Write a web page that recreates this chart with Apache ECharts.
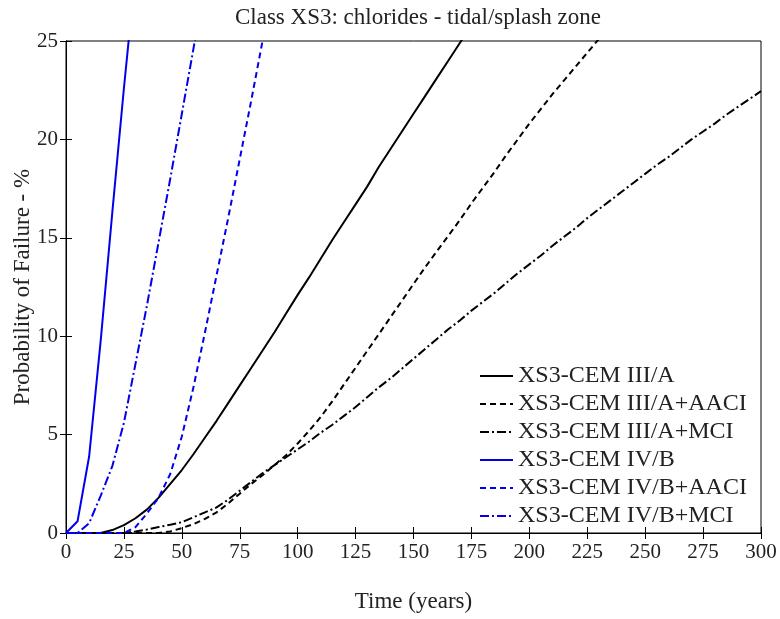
<!DOCTYPE html>
<html>
<head>
<meta charset="utf-8">
<script src="https://cdn.jsdelivr.net/npm/echarts@6/dist/echarts.min.js"></script>
<style>
  html, body { margin: 0; padding: 0; background: #fff; }
  #chart { width: 780px; height: 619px; }
</style>
</head>
<body>
<div id="chart"></div>
<script>
// series names
var names = ['XS3-CEM III/A', 'XS3-CEM III/A+AACI', 'XS3-CEM III/A+MCI',
             'XS3-CEM IV/B', 'XS3-CEM IV/B+AACI', 'XS3-CEM IV/B+MCI'];

// XS3-CEM III/A (black solid)
var yearsA = [0, 15, 20, 25, 30, 35, 40, 45, 50, 55, 60, 65, 70, 75, 80, 85, 90, 95, 100,
              105, 110, 115, 120, 125, 130, 135, 140, 145, 150, 155, 160, 165, 170, 175];
var valsA = [0, 0, 0.15, 0.4, 0.75, 1.2, 1.8, 2.5, 3.2, 4.0, 4.85, 5.7, 6.6, 7.5, 8.4, 9.3, 10.2, 11.15, 12.1,
             13.0, 13.95, 14.9, 15.8, 16.7, 17.6, 18.6, 19.5, 20.4, 21.3, 22.2, 23.1, 24.0, 24.9, 25.8];

// XS3-CEM III/A+AACI (black dashed)
var yearsB = [0, 40, 45, 50, 55, 60, 65, 70, 75, 80, 85, 90, 95, 100, 105, 110, 115, 120, 125, 130,
              135, 140, 145, 150, 155, 160, 165, 170, 175, 180, 185, 190, 195, 200, 205, 210, 215, 220, 225, 230, 235];
var valsB = [0, 0, 0.08, 0.25, 0.45, 0.72, 1.05, 1.5, 2.0, 2.5, 2.95, 3.45, 3.95, 4.55, 5.2, 5.9, 6.7, 7.55, 8.4, 9.25,
             10.1, 10.95, 11.8, 12.65, 13.5, 14.3, 15.1, 15.9, 16.75, 17.55, 18.35, 19.2, 20.0, 20.8, 21.55, 22.3, 23.0, 23.7, 24.4, 25.1, 25.8];

// XS3-CEM III/A+MCI (black dash-dot)
var yearsC = [0, 25, 30, 35, 40, 45, 50, 55, 60, 65, 70, 75, 80, 85, 90, 95, 100, 105, 110, 115, 120,
              125, 130, 135, 140, 145, 150, 155, 160, 165, 170, 175, 180, 185, 190, 195, 200, 205, 210,
              215, 220, 225, 230, 235, 240, 245, 250, 255, 260, 265, 270, 275, 280, 285, 290, 295, 300];
var valsC = [0, 0, 0.08, 0.18, 0.3, 0.42, 0.55, 0.8, 1.05, 1.3, 1.7, 2.15, 2.6, 3.05, 3.45, 3.85, 4.25, 4.65, 5.1, 5.5, 5.95,
             6.4, 6.9, 7.4, 7.85, 8.35, 8.85, 9.35, 9.85, 10.35, 10.8, 11.3, 11.75, 12.2, 12.7, 13.2, 13.65, 14.1, 14.6,
             15.05, 15.5, 16.0, 16.45, 16.9, 17.35, 17.8, 18.25, 18.7, 19.1, 19.55, 20.0, 20.4, 20.8, 21.25, 21.65, 22.05, 22.45];

// XS3-CEM IV/B (blue solid)
var yearsD = [0, 5, 10, 15, 20, 25, 30];
var valsD = [0, 0.6, 3.9, 9.8, 16.3, 22.6, 28.5];

// XS3-CEM IV/B+AACI (blue dashed)
var yearsE = [0, 25, 30, 35, 40, 45, 50, 55, 60, 65, 70, 75, 80, 85, 90];
var valsE = [0, 0, 0.3, 1.0, 1.8, 3.0, 4.9, 7.4, 10.2, 13.1, 16.0, 19.0, 22.0, 25.1, 28];

// XS3-CEM IV/B+MCI (blue dash-dot)
var yearsF = [0, 5, 10, 15, 20, 25, 30, 35, 40, 45, 50, 55, 60];
var valsF = [0, 0, 0.5, 1.9, 3.4, 5.6, 8.6, 11.6, 14.8, 18.0, 21.3, 24.6, 28];

var xTicks = { min: 0, max: 300, interval: 25 };
var yTicks = { min: 0, max: 25, interval: 5 };

function pairs(xs, ys) {
    return xs.map(function (x, i) { return [x, ys[i]]; });
}

var serif = '"Liberation Serif", "DejaVu Serif", serif';
var dash = [6, 4];
var dashDot = [9, 3, 2, 3];

function line(name, data, color, type) {
    return {
        name: name,
        type: 'line',
        data: data,
        symbol: 'none',
        smooth: false,
        lineStyle: { color: color, width: 2, type: type },
        itemStyle: { color: color },
        emphasis: { disabled: true }
    };
}

var myChart = echarts.init(document.getElementById('chart'));
var option = {
    backgroundColor: '#fff',
    animation: false,
    title: {
        text: 'Class XS3: chlorides - tidal/splash zone',
        left: 413,
        top: 1,
        textAlign: 'center',
        textStyle: { fontFamily: serif, fontSize: 23, fontWeight: 'normal', color: '#222' }
    },
    grid: {
        left: 66, right: 19, top: 41, bottom: 86,
        outerBoundsMode: 'none',
        show: true, borderColor: '#000', borderWidth: 1
    },
    legend: {
        orient: 'vertical',
        left: 474,
        top: 359,
        itemWidth: 33,
        itemHeight: 14,
        itemGap: 4,
        data: names,
        itemStyle: { opacity: 0 },
        textStyle: { fontFamily: serif, fontSize: 24, color: '#222', lineHeight: 24 }
    },
    xAxis: [{
        type: 'value',
        min: xTicks.min, max: xTicks.max, interval: xTicks.interval,
        name: 'Time (years)',
        nameLocation: 'middle',
        nameGap: 57,
        nameMoveOverlap: false,
        nameTextStyle: { fontFamily: serif, fontSize: 23, color: '#222' },
        axisLine: { show: true, lineStyle: { color: '#000' } },
        axisTick: { inside: true, length: 6, lineStyle: { color: '#000' } },
        axisLabel: { fontFamily: serif, fontSize: 21, color: '#222', margin: 9 },
        splitLine: { show: false }
    }, {
        type: 'value',
        position: 'top',
        min: xTicks.min, max: xTicks.max, interval: xTicks.interval,
        axisLine: { show: true, lineStyle: { color: '#000' } },
        axisTick: { inside: true, length: 6, lineStyle: { color: '#000' } },
        axisLabel: { show: false },
        splitLine: { show: false }
    }],
    yAxis: [{
        type: 'value',
        min: yTicks.min, max: yTicks.max, interval: yTicks.interval,
        name: 'Probability of Failure - %',
        nameLocation: 'middle',
        nameGap: 32,
        nameMoveOverlap: false,
        nameTextStyle: { fontFamily: serif, fontSize: 23, color: '#222' },
        axisLine: { show: true, lineStyle: { color: '#000' } },
        axisTick: { inside: true, length: 6, lineStyle: { color: '#000' } },
        axisLabel: { fontFamily: serif, fontSize: 21, color: '#222', margin: 8 },
        splitLine: { show: false }
    }, {
        type: 'value',
        position: 'right',
        min: yTicks.min, max: yTicks.max, interval: yTicks.interval,
        axisLine: { show: true, lineStyle: { color: '#000' } },
        axisTick: { inside: true, length: 6, lineStyle: { color: '#000' } },
        axisLabel: { show: false },
        splitLine: { show: false }
    }],
    series: [
        line(names[0], pairs(yearsA, valsA), '#000', 'solid'),
        line(names[1], pairs(yearsB, valsB), '#000', dash),
        line(names[2], pairs(yearsC, valsC), '#000', dashDot),
        line(names[3], pairs(yearsD, valsD), '#0000ee', 'solid'),
        line(names[4], pairs(yearsE, valsE), '#0000ee', dash),
        line(names[5], pairs(yearsF, valsF), '#0000ee', dashDot)
    ]
};
myChart.setOption(option);
</script>
</body>
</html>
